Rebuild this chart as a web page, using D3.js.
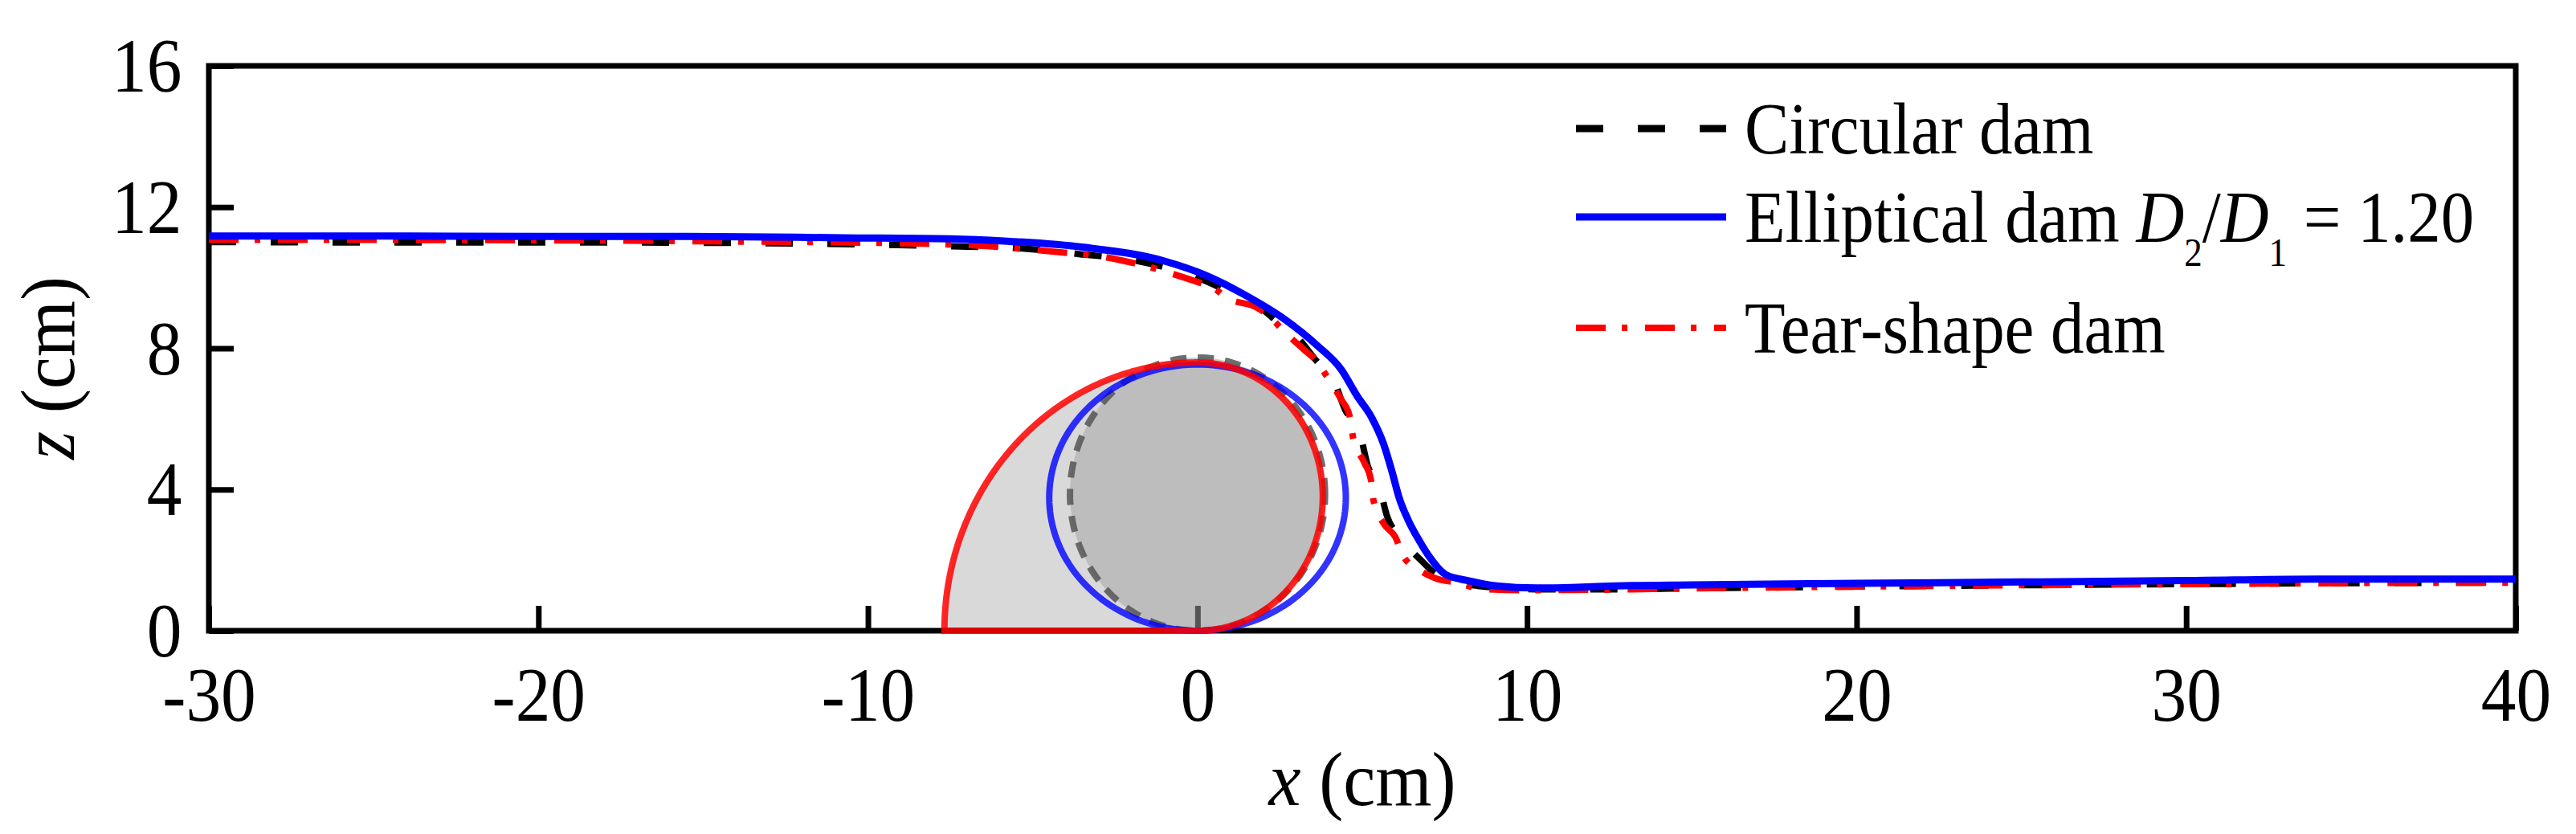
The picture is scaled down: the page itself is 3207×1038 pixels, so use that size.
<!DOCTYPE html>
<html lang="en">
<head>
    <meta charset="utf-8">
    <title>Water surface profiles over dams</title>
    <script type="text/javascript" src="https://d3js.org/d3.v7.min.js"></script>
    <style type="text/css">
        body { margin: 0; background: #fff; }
        svg { font-family: "Liberation Serif", "Times New Roman", serif; }
    </style>
</head>
<body>
<script type="text/javascript">

    // water surface, circular dam
    var circX = [-30, -25, -20, -15, -10, -7, -5.7, -3.6, -1.8, 0, 1.03, 2.0, 2.41, 2.97, 3.63, 4.12, 4.48, 4.92, 5.17, 5.5, 5.75, 6.14, 6.8, 7.3, 7.8, 8.5, 9.5, 10.5, 12, 15, 20, 25, 30, 35, 40];
    var circZ = [11.01, 11.0, 11.0, 10.99, 10.94, 10.88, 10.85, 10.67, 10.47, 10.0, 9.56, 9.08, 8.76, 8.37, 7.62, 7.12, 6.26, 5.62, 4.66, 4.14, 3.25, 2.66, 1.98, 1.55, 1.38, 1.27, 1.2, 1.17, 1.17, 1.2, 1.25, 1.29, 1.32, 1.35, 1.36];

    // water surface, elliptical dam D2/D1 = 1.20
    var ellX = [-30, -25, -20, -15.6, -10.75, -7.5, -5.87, -3.44, -1.0, 0.22, 1.44, 2.66, 3.63, 4.36, 4.85, 5.29, 5.65, 5.9, 6.12, 6.39, 6.73, 7.04, 7.53, 8.26, 9.07, 10.29, 11.5, 12.7, 15, 20, 25, 30, 34, 40];
    var ellZ = [11.18, 11.18, 11.17, 11.17, 11.13, 11.1, 11.04, 10.86, 10.47, 10.08, 9.51, 8.81, 8.08, 7.4, 6.64, 6.03, 5.28, 4.51, 3.76, 3.14, 2.55, 2.09, 1.59, 1.41, 1.27, 1.21, 1.23, 1.27, 1.3, 1.34, 1.38, 1.42, 1.46, 1.46];

    // water surface, tear-shape dam
    var tearX = [-30, -25, -20, -14.8, -8.6, -6.5, -4.4, -2.78, -1.97, -1.41, -0.83, -0.07, 0.46, 0.95, 1.76, 2.17, 2.61, 3.22, 3.58, 3.92, 4.36, 4.61, 4.73, 5.05, 5.26, 5.34, 5.65, 6.0, 6.24, 6.75, 7.24, 7.82, 8.68, 10, 12, 15, 20, 25, 30, 35, 40];
    var tearZ = [11.07, 11.07, 11.06, 11.03, 10.97, 10.9, 10.74, 10.58, 10.42, 10.29, 10.13, 9.9, 9.72, 9.4, 9.17, 8.92, 8.49, 7.97, 7.67, 7.21, 6.55, 6.1, 5.42, 4.78, 4.28, 3.69, 3.03, 2.66, 2.12, 1.71, 1.48, 1.37, 1.18, 1.15, 1.16, 1.2, 1.25, 1.29, 1.32, 1.35, 1.36];

    // dam outlines (cm)
    var circleR = 3.87;
    var ellipseRx = 4.5, ellipseRz = 3.77;
    var tearRx = 7.68, tearRz = 7.6;

    var xMajor = [-30, -20, -10, 0, 10, 20, 30, 40];
    var xMinor = [-25, -15, -5, 5, 15, 25, 35];
    var zMajor = [0, 4, 8, 12, 16];
    var zMinor = [2, 6, 10, 14];

    var width = 3207, height = 1038;
    var x = d3.scaleLinear().domain([-30, 40]).range([260, 3132]);
    var z = d3.scaleLinear().domain([0, 16]).range([785, 82]);

    var svg = d3.select("body").append("svg")
        .attr("width", width)
        .attr("height", height);

    function ring(cx, cz, rx, rz, a0, a1) {
        return d3.range(0, 181).map(function(i) {
            var t = a0 + (a1 - a0) * i / 180;
            return [cx + rx * Math.cos(t), cz + rz * Math.sin(t)];
        });
    }

    var shape = d3.line()
        .x(function(d) { return x(d[0]); })
        .y(function(d) { return z(d[1]); });

    // tear shape: quarter ellipse on the upstream side + half circle downstream
    var tearPts = ring(0, 0, tearRx, tearRz, Math.PI, Math.PI / 2)
        .concat(ring(0, tearRz / 2, tearRz / 2, tearRz / 2, Math.PI / 2, -Math.PI / 2));
    tearPts.push([-tearRx, 0]);

    svg.append("path")
        .attr("d", shape(tearPts) + "Z")
        .attr("fill", "#d9d9d9");

    // axes, ticks inside
    var plain = function(d) { return String(d); };
    var gx = svg.append("g").attr("transform", "translate(0," + z(0) + ")");
    gx.call(d3.axisBottom(x).tickValues(xMinor).tickSize(-16).tickFormat(""));
    gx.call(d3.axisBottom(x).tickValues(xMajor).tickSize(-31).tickSizeOuter(0).tickPadding(44).tickFormat(plain));
    var gz = svg.append("g").attr("transform", "translate(" + x(-30) + ",0)");
    gz.call(d3.axisLeft(z).tickValues(zMinor).tickSize(-16).tickFormat(""));
    gz.call(d3.axisLeft(z).tickValues(zMajor).tickSize(-31).tickSizeOuter(0).tickPadding(37).tickFormat(plain));

    svg.selectAll(".domain").remove();
    svg.selectAll(".tick line").attr("stroke", "#000").attr("stroke-width", 7);
    svg.selectAll(".tick text")
        .attr("font-size", 96)
        .attr("font-family", "Liberation Serif, Times New Roman, serif")
        .attr("fill", "#000")
        .attr("transform", "scale(0.91,1)");
    gz.selectAll(".tick text").attr("dy", "0.33em");

    svg.append("rect")
        .attr("x", x(-30)).attr("y", z(16))
        .attr("width", x(40) - x(-30)).attr("height", z(0) - z(16))
        .attr("fill", "none").attr("stroke", "#000").attr("stroke-width", 7);

    // circular dam
    var circPts = ring(0, circleR, circleR, circleR, 0, 2 * Math.PI);
    svg.append("path")
        .attr("d", shape(circPts) + "Z")
        .attr("fill", "rgb(163,163,163)")
        .attr("fill-opacity", 0.52);
    svg.append("path")
        .attr("d", shape(circPts) + "Z")
        .attr("fill", "none")
        .attr("stroke", "#555")
        .attr("stroke-opacity", 0.85)
        .attr("stroke-width", 8)
        .attr("stroke-dasharray", "20,14");

    // elliptical dam
    svg.append("path")
        .attr("d", shape(ring(0, ellipseRz, ellipseRx, ellipseRz, 0, 2 * Math.PI)) + "Z")
        .attr("fill", "none")
        .attr("stroke", "rgb(0,0,255)")
        .attr("stroke-opacity", 0.8)
        .attr("stroke-width", 8);

    // tear-shape dam outline
    svg.append("path")
        .attr("d", shape(tearPts) + "Z")
        .attr("fill", "none")
        .attr("stroke", "rgb(255,0,0)")
        .attr("stroke-opacity", 0.85)
        .attr("stroke-width", 8);

    // water surfaces
    var surface = d3.line()
        .x(function(d) { return x(d[0]); })
        .y(function(d) { return z(d[1]); })
        .curve(d3.curveMonotoneX);

    var series = [
        { name: "Circular dam", xs: circX, zs: circZ, color: "#000", dash: "34,43", w: 8 },
        { name: "Tear-shape dam", xs: tearX, zs: tearZ, color: "#ff0000", dash: "37,20,7,22", w: 8 },
        { name: "Elliptical dam", xs: ellX, zs: ellZ, color: "#0000ff", dash: null, w: 9 }
    ];

    series.forEach(function(s) {
        svg.append("path")
            .datum(d3.zip(s.xs, s.zs))
            .attr("d", surface)
            .attr("fill", "none")
            .attr("stroke", s.color)
            .attr("stroke-width", s.w)
            .attr("stroke-dasharray", s.dash);
    });

    // axis titles
    svg.append("text")
        .attr("transform", "translate(" + ((x(-30) + x(40)) / 2) + ",1002) scale(0.94,1)")
        .attr("text-anchor", "middle")
        .attr("font-size", 96)
        .html('<tspan font-style="italic">x</tspan> (cm)');

    svg.append("text")
        .attr("transform", "translate(92,458) rotate(-90) scale(0.94,1)")
        .attr("text-anchor", "middle")
        .attr("font-size", 96)
        .html('<tspan font-style="italic">z</tspan> (cm)');

    // legend
    var legend = [
        { color: "#000", dash: "34,43", w: 9, y: 160 },
        { color: "#0000ff", dash: null, w: 9, y: 270 },
        { color: "#ff0000", dash: "37,20,7,22", w: 8, y: 408 }
    ];
    var legendText = [
        'Circular dam',
        'Elliptical dam <tspan font-style="italic">D</tspan><tspan font-size="50" dy="30">2</tspan><tspan dy="-30">/</tspan><tspan font-style="italic">D</tspan><tspan font-size="50" dy="30">1</tspan><tspan dy="-30"> = 1.20</tspan>',
        'Tear-shape dam'
    ];

    legend.forEach(function(d, i) {
        svg.append("line")
            .attr("x1", 1962).attr("x2", 2149)
            .attr("y1", d.y).attr("y2", d.y)
            .attr("stroke", d.color)
            .attr("stroke-width", d.w)
            .attr("stroke-dasharray", d.dash);
        svg.append("text")
            .attr("transform", "translate(2172," + (d.y + 31) + ") scale(0.9,1)")
            .attr("font-size", 92)
            .html(legendText[i]);
    });

</script>
</body>
</html>
